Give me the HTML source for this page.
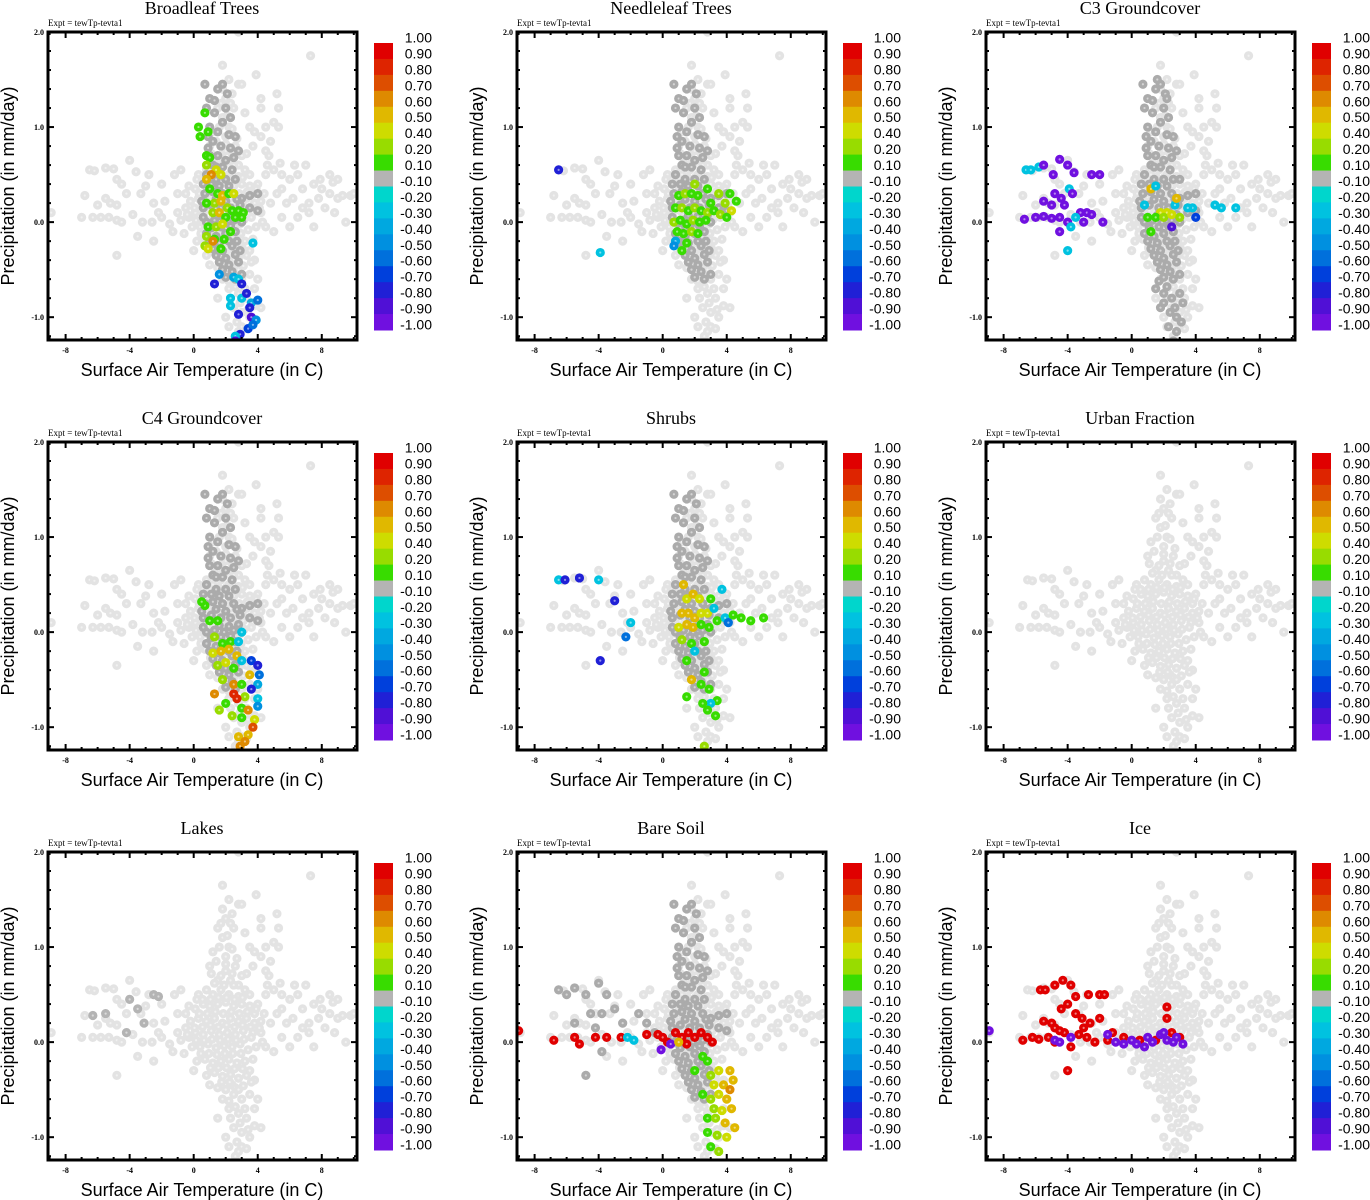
<!DOCTYPE html>
<html><head><meta charset="utf-8">
<style>
html,body{margin:0;padding:0;background:#fff;}
svg{display:block;}
.ttl{font-family:"Liberation Serif",serif;font-size:18px;}
.expt{font-family:"Liberation Serif",serif;font-size:9px;}
.tk{font-family:"Liberation Serif",serif;font-size:8px;font-weight:bold;}
.ax{font-family:"Liberation Sans",sans-serif;font-size:18px;}
.cb{font-family:"Liberation Sans",sans-serif;font-size:14px;}
</style></head>
<body>
<svg id="fig" width="1370" height="1200" viewBox="0 0 1370 1200" xmlns="http://www.w3.org/2000/svg"></svg>
<script>
const titles = ["Broadleaf Trees","Needleleaf Trees","C3 Groundcover","C4 Groundcover","Shrubs","Urban Fraction","Lakes","Bare Soil","Ice"];
const xTicks = [-8,-4,0,4,8];
const yTicks = [2.0,1.0,0.0,-1.0];
const cbLevels = [1.00,0.90,0.80,0.70,0.60,0.50,0.40,0.20,0.10,-0.10,-0.20,-0.30,-0.40,-0.50,-0.60,-0.70,-0.80,-0.90,-1.00];
const cbColors = ["#e00000","#de2400","#dd4e00","#de8a00","#e0b800","#cedc00","#98dc00","#38dc00","#b4b4b4","#00d6cc","#00c2e0","#00a8e0","#0090e0","#0070dc","#0040dc","#2020d6","#5010d6","#7010e0"];

const bgPts = [[-6.5,0.55],[-6.2,0.54],[-5.5,0.57],[-5,0.56],[-4,0.65],[-3.6,0.53],[-2.8,0.5],[-4.8,0.45],[-4.5,0.4],[-3,0.38],[-2,0.4],[-6.8,0.28],[-5.5,0.25],[-4.2,0.3],[-3.3,0.3],[-6,0.18],[-5.2,0.2],[-4.8,0.18],[-2.5,0.2],[-7,0.05],[-6.3,0.05],[-5.8,0.05],[-5.3,0.05],[-4.8,0.02],[-4.5,0],[-3.8,0.08],[-3.2,0],[-2.6,0],[-2,0.05],[-1.5,-0.02],[-1,0.1],[-0.5,0.15],[-3.5,-0.15],[-4.8,-0.35],[-2.5,-0.2],[-1.3,-0.1],[-0.8,0.02],[-0.3,0.05],[-2.2,0.1],[-1.8,0.22],[-1,0.3],[-0.5,0.3],[-1.2,0.5],[-0.8,0.55],[-8.9,0.1],
[2.8,2.0],[1.8,1.65],[2.2,1.5],[2.8,1.45],[3,1.45],[4.2,1.3],[5.2,1.35],[7.3,1.75],[5,1.05],[5.3,1],[4.5,1],[3.5,1],[3.8,0.95],[4.8,0.85],[4.2,0.9],[4.5,0.75],[3.3,0.72],[3,0.7],[1.5,1.2],[1.8,1.1],[2.2,1],[2.5,1.2],[2,0.9],[1.2,0.95],[1,0.8],[2.6,0.8],[3.7,0.8],[4.7,0.7],[2.8,0.6],[2,0.75],[1.5,0.65],[2.3,0.65],[1.8,1.4],[2,1.3],[2.4,1.35],[3.2,1.15],[4.2,1.2],[3.9,1.55],[5.3,1.2],
[4.5,0.5],[5,0.55],[5.5,0.5],[6,0.45],[6.5,0.5],[7,0.6],[7.5,0.4],[8,0.35],[8.5,0.3],[9,0.25],[9.3,0.28],[9.8,0.28],[9.5,0],[8.8,0.1],[8.2,0.15],[7.8,0.25],[7.2,0.2],[6.8,0.15],[6.2,0.25],[5.8,0.2],[5.2,0.3],[4.8,0.2],[4.4,0.3],[4.2,0.1],[5.5,0.05],[6.5,0.05],[7.2,0.1],[8.5,0.5],[9,0.45],[6,-0.05],[7.5,-0.05],[5,-0.1],[4.5,-0.05],[6.8,0.35],[5.5,0.35],[7.9,0.45],[8.7,0.42],[10,0.3],[4.6,0.6],[5.4,0.62],[6.3,0.6],[3.5,0.5],[3.8,0.3],[3.7,0.1],[4,0.4],
[2,-0.5],[2.5,-0.55],[3,-0.6],[3.5,-0.55],[3.8,-0.4],[4,-0.6],[3.5,-0.3],[2.2,-0.7],[2.8,-0.75],[3.3,-0.8],[3.8,-0.7],[4.2,-0.9],[2.5,-0.9],[3,-0.95],[3.5,-1],[3,-1.1],[2.6,-1.2],[2.8,-1.15],[3.3,-1.12],[2,-1],[1.5,-0.8],[2.4,-0.45],[3.8,-0.88],[2.7,-1.05],[1.8,-0.6],
[0.3,0.5],[0.8,0.55],[1.2,0.5],[1.7,0.55],[2.2,0.5],[2.8,0.48],[3.2,0.55],[0.1,0.35],[0.6,0.4],[1,0.38],[1.5,0.4],[2,0.42],[2.5,0.38],[3,0.4],[3.5,0.38],[-0.2,0.22],[0.3,0.25],[0.8,0.22],[1.3,0.25],[1.8,0.2],[2.3,0.25],[2.8,0.22],[3.3,0.25],[3.8,0.2],[-0.4,0.08],[0.1,0.1],[0.6,0.08],[1.1,0.12],[1.6,0.08],[2.1,0.1],[2.6,0.08],[3.1,0.12],[3.6,0.05],[4.1,0.15],[-0.1,-0.05],[0.4,-0.05],[0.9,-0.02],[1.4,-0.06],[1.9,-0.04],[2.4,-0.05],[2.9,-0.02],[3.4,-0.08],[0.2,-0.2],[0.7,-0.18],[1.2,-0.22],[1.7,-0.2],[2.2,-0.18],[2.7,-0.22],[3.2,-0.2],[0.8,-0.35],[1.3,-0.32],[1.8,-0.36],[2.3,-0.34],[2.8,-0.38],[3.3,-0.35],[1.5,-0.48],[2,-0.5],[2.6,-0.48],[3.1,-0.46],
[0.55,0.45],[1.05,0.45],[1.55,0.47],[2.05,0.47],[2.55,0.45],[3.05,0.47],[0.35,0.3],[0.85,0.3],[1.35,0.32],[1.85,0.3],[2.35,0.32],[2.85,0.3],[3.35,0.32],[0.05,0.15],[0.55,0.16],[1.05,0.18],[1.55,0.16],[2.05,0.18],[2.55,0.16],[3.05,0.18],[3.55,0.16],[0.15,0.02],[0.65,0.02],[1.15,0.03],[1.65,0.02],[2.15,0.03],[2.65,0.02],[3.15,0.03],[0.45,-0.12],[0.95,-0.12],[1.45,-0.13],[1.95,-0.12],[2.45,-0.12],[2.95,-0.12],[1.05,-0.27],[1.55,-0.27],[2.05,-0.27],[2.55,-0.28],[3.05,-0.28],[1.75,-0.42],[2.25,-0.42],[2.8,-0.5],
[1.3,0.62],[1.9,0.6],[2.5,0.6],[1.1,0.72],[1.7,0.7],[2.4,0.72],[1.4,0.85],[2,0.82],[2.7,0.88],[1.6,1.0],[2.4,0.98],[2.1,1.12],[1.7,1.25],[2.3,1.25],[-0.3,0.38],[0.2,0.45],[3.9,0.35],[4.2,0.22],[3.9,-0.05],[4.3,0.0],[-0.6,-0.12],[0.0,-0.3],[3.7,-0.18],[1.0,-0.45],[3.6,-0.42],[2.2,-0.62],[2.6,-0.68],[3.2,-0.7],[2.3,-0.8],[2.9,-0.85],[3.4,-0.92],[2.2,-1.1]];

const darkBand = [[1,1.3],[1.5,1.4],[2,1.2],[1.3,1.15],[1.8,1.05],[2.3,1.1],[1,1],[1.5,0.95],[2.2,0.92],[2.6,0.9],[1.2,0.85],[1.7,0.8],[2.3,0.78],[1,0.7],[1.5,0.7],[2,0.65],[2.5,0.68],[1.2,0.6],[1.8,0.58],[2.4,0.55],[0.8,0.5],[1.4,0.45],[2,0.45],[2.6,0.45],[0.7,0.3],[1.2,0.32],[1.8,0.3],[2.5,0.3],[3,0.25],[3.5,0.28],[4,0.3],[0.6,0.15],[1.1,0.18],[1.7,0.15],[2.3,0.15],[2.9,0.18],[3.5,0.15],[4,0.12],[0.8,0],[1.3,0.02],[1.9,0],[2.5,0.02],[3,0],[0.8,-0.12],[1.4,-0.15],[2,-0.12],[2.6,-0.1],[1.2,-0.28],[1.8,-0.3],[2.4,-0.25],[2.9,-0.3],[1.6,-0.42],[2.2,-0.45],[2.8,-0.42],[2,-0.58],[2.6,-0.6],[3,-0.55],[0.7,1.45],[1.8,1.45],[0.9,0.9],
[0.8,1.2],[1.3,1.28],[2.1,1.35],[0.9,0.78],[1.4,0.58],[2.8,0.75],[0.6,0.4],[1.1,0.4],[1.6,0.38],[2.2,0.38],[0.5,0.22],[1.4,0.24],[2.0,0.22],[2.7,0.24],[0.6,0.05],[1.6,0.07],[2.2,0.06],[2.8,0.08],[1.1,-0.06],[1.7,-0.05],[2.3,-0.04],[1.0,-0.2],[1.6,-0.22],[2.2,-0.2],[2.7,-0.2],[1.4,-0.35],[2.0,-0.38],[2.6,-0.34],[1.8,-0.5],[2.4,-0.52]];
const c3Dark = [[1.5,-0.7],[2,-0.75],[2.5,-0.8],[3,-0.75],[1.8,-0.9],[2.4,-0.95],[2.8,-1],[2.3,-1.1],[2.8,-1.15],[3.2,-0.85],[1.6,1.5],[2.2,1.3],[3,0.45],[3.5,0.1],[2.6,-1.25],[1.7,-0.62],[2.2,-0.68],[2.7,-0.9],[3.1,-1.05],[2.0,-0.85]];
const soilDark = [[-6.5,0.55],[-6,0.5],[-5.5,0.57],[-4.8,0.5],[-4,0.62],[-3.5,0.5],[-4.5,0.3],[-3.8,0.3],[-3,0.35],[-5.5,0.2],[-4.2,0.15],[-2.5,0.2],[-1.5,0.3],[-1,0.2],[-4.8,-0.35],[-3.8,-0.1],[-0.5,0.1]];

const blPts = [[0.7,1.15,0.15],[0.3,1,0.15],[0.4,0.9,0.15],[0.9,0.95,0.15],[0.8,0.7,0.15],[1,0.68,0.15],[0.8,0.6,0.3],[1.4,0.55,0.45],[1.7,0.5,0.45],[1.1,0.5,0.7],[0.8,0.45,0.55],[1,0.35,0.15],[1.5,0.3,0.15],[1.8,0.28,0.55],[2.2,0.3,0.15],[2.5,0.3,0.45],[1.3,0.2,0.3],[1.7,0.22,0.55],[2.1,0.15,0.3],[2.4,0.12,0.15],[2.8,0.12,0.15],[3.1,0.1,0.15],[0.8,0.2,0.15],[1.2,0.1,0.3],[1.6,0.1,0.55],[2,0.05,0.15],[2.6,0.05,0.15],[3,0.05,0.15],[0.9,-0.05,0.15],[1.4,-0.05,0.3],[1.8,-0.02,0.5],[2.3,-0.1,0.15],[0.8,-0.15,0.3],[1.3,-0.18,0.15],[1.9,-0.18,0.15],[1.2,-0.2,0.7],[0.7,-0.25,0.3],[0.9,-0.28,0.45],[1.7,-0.28,0.15],[3.7,-0.22,-0.2],[1.6,-0.55,-0.4],[1.3,-0.65,-0.7],[2.5,-0.58,-0.3],[2.8,-0.6,-0.2],[3,-0.65,-0.7],[2.3,-0.8,-0.2],[3,-0.8,-0.25],[3.3,-0.75,-0.75],[3.6,-0.85,-0.3],[4,-0.82,-0.5],[3.5,-0.9,-0.7],[2.3,-0.88,-0.25],[2.8,-0.97,-0.7],[3.6,-1,-0.85],[3.9,-1.03,-0.4],[3.4,-1.12,-0.6],[3.7,-1.08,-0.5],[2.9,-1.18,-0.75],[2.6,-1.2,-0.25],[2.6,-1.25,-0.85]];
const nlPts = [[-6.5,0.55,-0.7],[-3.9,-0.32,-0.2],[1,0.28,0.15],[1.4,0.3,0.3],[1.8,0.3,0.15],[2.2,0.28,0.15],[2.8,0.35,0.15],[3.5,0.3,0.3],[4.2,0.3,0.15],[4.6,0.22,0.15],[4.3,0.12,0.45],[0.8,0.15,0.15],[1.2,0.15,0.3],[1.6,0.12,0.15],[2,0.15,0.3],[2.4,0.12,0.15],[2.8,0.1,0.3],[3.2,0.12,0.15],[3.6,0.08,0.3],[4,0.05,0.15],[0.7,0,0.3],[1.1,0.02,0.15],[1.5,-0.02,0.15],[1.9,0.02,0.3],[2.3,0,0.15],[2.7,0.02,0.15],[0.9,-0.1,0.15],[1.3,-0.12,0.15],[1.8,-0.1,0.3],[2.2,-0.12,0.15],[0.8,-0.2,-0.3],[1.5,-0.22,0.15],[1.2,-0.3,0.15],[0.7,-0.25,-0.4],[2,0.4,0.3],[3,0.2,0.15],[3.9,0.2,0.3]];
const c3Pts = [[-6.6,0.55,-0.2],[-6.3,0.55,-0.2],[-5.8,0.58,-0.2],[-5.5,0.6,-0.9],[-4.9,0.5,-0.9],[-4.5,0.66,-0.9],[-4,0.6,-0.9],[-3.6,0.52,-0.9],[-3.9,0.35,-0.2],[-3.7,0.3,-0.9],[-2.5,0.5,-0.9],[-2,0.5,-0.9],[-4.8,0.3,-0.9],[-4.4,0.25,-0.9],[-4.2,0.18,-0.9],[-5.5,0.22,-0.9],[-5,0.18,-0.9],[-3.2,0.1,-0.9],[-2.8,0.1,-0.9],[-2.5,0.08,-0.9],[-6.7,0.03,-0.9],[-6,0.05,-0.9],[-5.5,0.06,-0.9],[-5,0.04,-0.9],[-4.5,0.05,-0.9],[-4,0,-0.9],[-3.5,0.05,-0.2],[-3,0,-0.9],[-1.8,0,-0.9],[-3.8,-0.05,-0.2],[-4,-0.3,-0.2],[-4.5,-0.1,-0.9],[1.2,0.35,0.6],[1.8,0.1,0.45],[2.2,0.1,0.45],[1,0.05,0.15],[1.5,0.05,0.15],[2,0.05,0.3],[2.5,0.08,0.45],[3,0.05,0.3],[1.2,-0.1,0.15],[2.7,0.18,-0.2],[3.8,0.15,-0.2],[4,0.05,-0.6],[5.2,0.18,-0.2],[5.6,0.15,-0.2],[6.5,0.15,-0.2],[3.5,0.15,-0.25],[1.5,0.38,-0.2],[2.5,-0.05,-0.8],[2.8,0.25,0.6],[0.8,0.18,-0.2]];
const c4Pts = [[0.7,0.28,0.15],[0.5,0.32,0.15],[1,0.12,0.15],[1.5,0.12,0.15],[1.3,-0.05,0.3],[1.8,-0.12,0.15],[2.3,-0.1,0.15],[2.8,-0.1,-0.2],[3,0,-0.2],[1.2,-0.22,0.45],[1.7,-0.2,0.55],[2.2,-0.18,0.55],[2.7,-0.25,0.6],[1.5,-0.35,0.3],[2,-0.32,0.5],[2.5,-0.38,0.15],[3,-0.3,-0.2],[3.6,-0.3,-0.6],[4,-0.35,-0.7],[4.1,-0.45,-0.5],[3.5,-0.45,0.6],[1.8,-0.5,0.3],[2.5,-0.55,0.7],[3,-0.55,0.15],[4,-0.55,-0.3],[3.6,-0.6,-0.7],[1.3,-0.65,0.7],[2.5,-0.65,0.9],[3.2,-0.68,0.4],[4,-0.7,-0.2],[2,-0.75,0.15],[2.7,-0.7,0.9],[3,-0.8,0.15],[3.4,-0.82,0.7],[4,-0.78,-0.4],[2.4,-0.88,0.3],[3,-0.9,0.15],[3.8,-0.92,0.45],[1.6,-0.82,0.3],[3.7,-1,0.75],[3.4,-1.08,0.55],[2.8,-1.1,0.6],[3.2,-1.15,0.65],[2.9,-1.2,0.7]];
const shPts = [[-6.5,0.55,-0.2],[-6.1,0.55,-0.7],[-5.2,0.57,-0.7],[-4,0.55,-0.2],[-3,0.33,-0.7],[-2.3,-0.05,-0.5],[-3.9,-0.3,-0.7],[-2,0.1,-0.2],[1.3,0.5,0.6],[1.5,0.35,0.45],[1.9,0.4,0.6],[2.3,0.35,0.5],[1.2,0.2,0.55],[1.6,0.2,0.6],[2,0.15,0.55],[2.4,0.2,0.5],[2.8,0.2,0.45],[3.2,0.25,-0.2],[1,0.05,0.5],[1.5,0.08,0.55],[1.9,0.05,0.6],[2.4,0.08,0.15],[2.9,0.05,0.15],[3.4,0.12,0.15],[3.9,0.15,-0.2],[4.4,0.18,0.15],[4.9,0.15,0.15],[5.5,0.12,0.15],[6.3,0.15,0.15],[4.1,0.1,-0.5],[3.7,0.45,-0.2],[1.2,-0.08,0.4],[1.8,-0.12,0.15],[2.6,-0.1,0.15],[3,0.35,0.15],[2,-0.2,-0.2],[1.5,-0.3,0.15],[2.6,-0.42,0.15],[1.8,-0.5,0.6],[2.4,-0.55,0.15],[2.9,-0.6,0.15],[3.4,-0.72,0.15],[3,-0.75,-0.2],[1.5,-0.68,0.15],[2.5,-0.75,0.15],[2.8,-0.82,0.15],[3.3,-0.88,0.15],[2.6,-1.2,0.25]];
const lkPts = [[-5.5,0.3,0],[-6.3,0.28,0],[-4,0.45,0],[-4.2,0.1,0],[-2.5,0.5,0],[-2.2,0.48,0],[-3.5,0.35,0],[-3.1,0.2,0]];
const bsPts = [[-9,0.12,0.95],[-6.8,0.02,0.95],[-5.5,0.05,0.95],[-5.2,-0.02,0.95],[-4.2,0.05,0.95],[-3.5,0.05,0.95],[-2.6,0.05,0.95],[-1,0.08,0.95],[-0.3,0.08,0.95],[0,0.05,0.95],[0.3,0,0.95],[0.8,0.1,0.95],[1.2,0.05,0.95],[1.6,0.1,0.95],[2,0.05,0.95],[2.4,0.1,0.95],[2.8,0.05,0.95],[3.1,0,0.95],[1.5,-0.02,0.95],[-0.1,-0.08,-0.9],[-1.8,0.02,-0.2],[-2.2,0.05,-0.2],[0.5,-0.02,-0.9],[1,0,0.6],[2.5,-0.15,0.15],[2.8,-0.2,0.15],[2,-0.3,0.15],[3,-0.35,0.4],[3.5,-0.3,0.5],[4.2,-0.3,0.6],[4.4,-0.4,0.6],[3.2,-0.45,0.45],[3.8,-0.45,0.55],[4.2,-0.5,0.7],[2.5,-0.55,0.15],[3,-0.6,0.4],[3.5,-0.55,0.45],[4,-0.6,0.6],[4.3,-0.7,0.6],[3.2,-0.7,0.3],[3.7,-0.72,0.5],[2.8,-0.8,0.15],[3.3,-0.8,0.3],[3.9,-0.85,0.55],[4.5,-0.9,0.6],[2.8,-0.95,0.15],[3.4,-0.98,0.3],[4,-1,0.5],[3,-1.1,0.15],[3.5,-1.15,0.3]];
const icePts = [[-5.7,0.55,0.95],[-5.4,0.55,0.95],[-4.8,0.6,0.95],[-4.3,0.65,0.95],[-3.8,0.6,0.95],[-3.5,0.48,0.95],[-2.7,0.5,0.95],[-2,0.5,0.95],[-1.7,0.5,0.95],[2.2,0.37,0.95],[-4,0.4,0.95],[-4.4,0.35,0.95],[-5.5,0.22,0.95],[-5,0.2,0.95],[-4.8,0.15,0.95],[-3.5,0.3,0.95],[-3.1,0.25,0.95],[-2.6,0.2,0.95],[-3,0.15,0.95],[-2,0.25,0.95],[-6.8,0.02,0.95],[-6.2,0.05,0.95],[-5.8,0.03,0.95],[-5.2,0.05,0.95],[-4.8,0,0.95],[-4.2,0.1,0.95],[-3.8,-0.05,0.95],[-2.8,0.05,0.95],[-2.3,0,0.95],[-1.5,0.02,0.95],[-1.2,0.1,0.95],[-0.5,0.05,0.95],[0.5,0.02,0.95],[1.5,0.02,0.95],[2.2,0.25,0.95],[2.5,0.1,0.95],[3,0.05,0.95],[-4,-0.3,0.95],[-4.5,0.12,0.95],[-3.3,0.08,0.95],[-8.9,0.12,-0.9],[-4.8,0.02,-0.9],[-4.5,0,-0.9],[-3.8,0.05,-0.9],[-1.5,0.08,-0.9],[-1,0,-0.9],[0,0.02,-0.9],[0.3,-0.02,-0.9],[0.8,-0.05,-0.9],[1,0.05,-0.9],[1.3,0,-0.9],[1.8,0.08,-0.9],[2,0.1,-0.9],[2.2,0.02,-0.9],[2.6,0,-0.9],[2.8,0.05,-0.9],[3.2,-0.02,-0.9],[-0.5,-0.02,-0.9]];

const panelDark = [[darkBand],[darkBand],[darkBand,c3Dark],[darkBand],[darkBand],[],[],[darkBand,soilDark],[]];
const panelPts = [blPts,nlPts,c3Pts,c4Pts,shPts,[],lkPts,bsPts,icePts];

const NS = "http://www.w3.org/2000/svg";
const fig = document.getElementById('fig');
const X0=48, X1=357, Y0=32, Y1=340;
const xMin=-9.1, xMax=10.2, yMin=-1.24, yMax=2.0;
function sx(t){return X0+(t-xMin)/(xMax-xMin)*(X1-X0);}
function sy(p){return Y1-(p-yMin)/(yMax-yMin)*(Y1-Y0);}
function colorFor(v){for(let i=0;i<cbColors.length;i++){if(v<=cbLevels[i]&&v>cbLevels[i+1])return cbColors[i];}return cbColors[cbColors.length-1];}
function mk(tag,attrs,parent){const e=document.createElementNS(NS,tag);for(const k in attrs)e.setAttribute(k,attrs[k]);parent.appendChild(e);return e;}
function dot(g,t,p,col){
  const c=mk('circle',{cx:sx(t),cy:sy(p),r:3.7,fill:col,stroke:col,'stroke-width':1.8},g);
  
  
  mk('circle',{cx:sx(t),cy:sy(p),r:1.1,fill:'#fff','fill-opacity':0.5},g);
}

titles.forEach((title,k)=>{
  const ox=[0,469,938][k%3], oy=[0,410,820][Math.floor(k/3)];
  const g=mk('g',{transform:`translate(${ox},${oy})`},fig);
  
  
  const tt=mk('text',{x:202,y:14,'text-anchor':'middle',class:'ttl'},g); tt.textContent=title;
  
  
  const ex=mk('text',{x:48,y:26,class:'expt'},g); ex.textContent='Expt = tewTp-tevta1';
  
  
  const cid='clip'+k;
  const cp=mk('clipPath',{id:cid},g); mk('rect',{x:X0,y:Y0,width:X1-X0,height:Y1-Y0},cp);
  const pg=mk('g',{'clip-path':`url(#${cid})`},g);
  
  
  bgPts.forEach(d=>dot(pg,d[0],d[1],'#e3e3e3'));
  panelDark[k].forEach(arr=>arr.forEach(d=>dot(pg,d[0],d[1],'#ababab')));
  panelPts[k].forEach(d=>dot(pg,d[0],d[1],colorFor(d[2])));
  for(let t=-9;t<=10;t++){const L=(t%4===0)?6:3;
    mk('line',{x1:sx(t),x2:sx(t),y1:Y1,y2:Y1-L,stroke:'#000','stroke-width':2},g);
    mk('line',{x1:sx(t),x2:sx(t),y1:Y0,y2:Y0+L,stroke:'#000','stroke-width':2},g);}
  for(let i=-6;i<=10;i++){const p=i*0.2;const L=(i%5===0)?6:3;
    mk('line',{x1:X0,x2:X0+L,y1:sy(p),y2:sy(p),stroke:'#000','stroke-width':2},g);
    mk('line',{x1:X1,x2:X1-L,y1:sy(p),y2:sy(p),stroke:'#000','stroke-width':2},g);}
  const fr=mk('rect',{x:X0,y:Y0,width:X1-X0,height:Y1-Y0,fill:'none',stroke:'#000','stroke-width':3},g);
  
  
  xTicks.forEach(t=>{const e=mk('text',{x:sx(t),y:353,'text-anchor':'middle',class:'tk'},g);e.textContent=t;
    
    });
  yTicks.forEach(p=>{const e=mk('text',{x:44,y:sy(p)+3,'text-anchor':'end',class:'tk'},g);e.textContent=p.toFixed(1);
    
    });
  const xt=mk('text',{x:202,y:376,'text-anchor':'middle',class:'ax'},g);xt.textContent='Surface Air Temperature (in C)';
  
  
  const yt=mk('text',{x:0,y:0,'text-anchor':'middle',class:'ax',transform:'translate(14,186) rotate(-90)'},g);yt.textContent='Precipitation (in mm/day)';
  
  
  const cb=mk('g',{},g);
  
  
  const bh=287/cbColors.length;
  cbColors.forEach((c,i)=>{const r=mk('rect',{x:374,y:43+i*bh,width:19,height:bh+0.5,fill:c},cb);
    
    });
  cbLevels.forEach((v,i)=>{const e=mk('text',{x:432,y:43+i*bh-0.5,'text-anchor':'end',class:'cb'},cb);e.textContent=v.toFixed(2);
    
    });
});
</script>
</body></html>
